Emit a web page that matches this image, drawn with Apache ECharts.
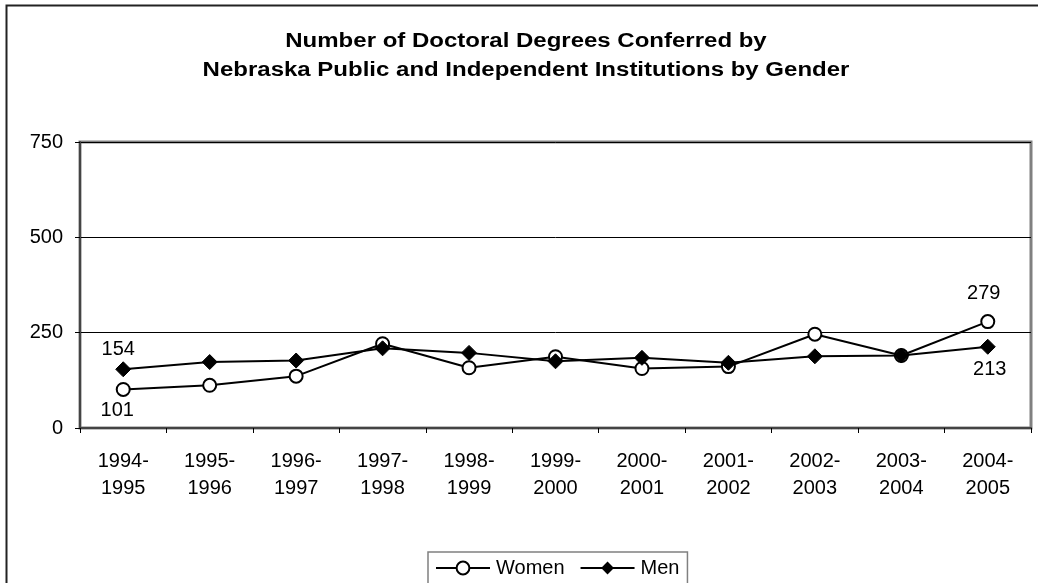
<!DOCTYPE html>
<html>
<head>
<meta charset="utf-8">
<script src="https://cdn.jsdelivr.net/npm/echarts@6/dist/echarts.min.js"></script>
<style>
  html, body { margin: 0; padding: 0; background: #fff; }
  #chart { width: 1038px; height: 583px; }
</style>
</head>
<body>
<div id="chart"></div>
<script>
// categories and values
const years = ['1994-\n1995', '1995-\n1996', '1996-\n1997', '1997-\n1998', '1998-\n1999', '1999-\n2000',
  '2000-\n2001', '2001-\n2002', '2002-\n2003', '2003-\n2004', '2004-\n2005'];
const women = [101, 112, 136, 221, 158, 187, 156, 161, 246, 190, 279];
const men = [154, 173, 177, 209, 197, 175, 184, 171, 188, 190, 213];
const yTicks = [0, 250, 500, 750];
const titleLines = ['Number of Doctoral Degrees Conferred by',
  'Nebraska Public and Independent Institutions by Gender'];

const font = 'Liberation Sans, Arial, sans-serif';

// only first and last points carry a value label
function withLabels(arr, first, last) {
  return arr.map((v, i) => {
    if (i === 0) return { value: v, label: first };
    if (i === arr.length - 1) return { value: v, label: last };
    return v;
  });
}
const lbl = (pos, off) => ({ show: true, position: pos, offset: off, color: '#000', fontSize: 20, fontFamily: font });

const chart = echarts.init(document.getElementById('chart'));
chart.setOption({
  animation: false,
  graphic: [
    {
      type: 'rect', left: 4, top: 3,
      shape: { width: 1060, height: 620 },
      style: { fill: 'none', stroke: '#222', lineWidth: 2 }
    },
    // title drawn as text, a bit wider like the original
    ...titleLines.map((t, i) => ({
      type: 'text', x: 526, y: 41 + i * 29, scaleX: 1.2,
      style: {
        text: t, fontFamily: font, fontSize: 20, fontWeight: 'bold', fill: '#000',
        align: 'center', verticalAlign: 'middle'
      }
    }))
  ],
  legend: {
    top: 552, left: 428,
    itemWidth: 54, itemHeight: 16, itemGap: 15,
    padding: [6, 8, 20, 7],
    borderColor: '#808080', borderWidth: 1.5,
    textStyle: { fontFamily: font, fontSize: 20, color: '#000', padding: [0, 0, 0, 1] },
    data: ['Women', 'Men']
  },
  grid: {
    left: 80, right: 7, top: 142, bottom: 155,
    show: true, borderColor: '#808080', borderWidth: 3
  },
  xAxis: {
    type: 'category', data: years, boundaryGap: true,
    axisLine: { lineStyle: { color: '#444', width: 2 } },
    axisTick: { show: true, length: 5, lineStyle: { color: '#000' } },
    axisLabel: { color: '#000', fontSize: 20, fontFamily: font, lineHeight: 27, margin: 20 }
  },
  yAxis: {
    type: 'value', min: yTicks[0], max: yTicks[yTicks.length - 1], interval: 250,
    axisLine: { show: true, lineStyle: { color: '#444', width: 2 } },
    axisTick: { show: true, length: 5, lineStyle: { color: '#000' } },
    axisLabel: { color: '#000', fontSize: 20, fontFamily: font, margin: 17 },
    splitLine: { lineStyle: { color: '#000', width: 1 } }
  },
  series: [
    {
      name: 'Women', type: 'line',
      data: withLabels(women, lbl('bottom', [-6, -2]), lbl('top', [-4, -6])),
      symbol: 'circle', symbolSize: 13,
      itemStyle: { color: '#fff', borderColor: '#000', borderWidth: 2 },
      lineStyle: { color: '#000', width: 2 },
      z: 3
    },
    {
      name: 'Men', type: 'line',
      data: withLabels(men, lbl('top', [-5, 3]), lbl('bottom', [2, 0])),
      symbol: 'diamond', symbolSize: 15,
      itemStyle: { color: '#000', borderColor: '#000' },
      lineStyle: { color: '#000', width: 2 },
      z: 4
    }
  ]
});
</script>
</body>
</html>
